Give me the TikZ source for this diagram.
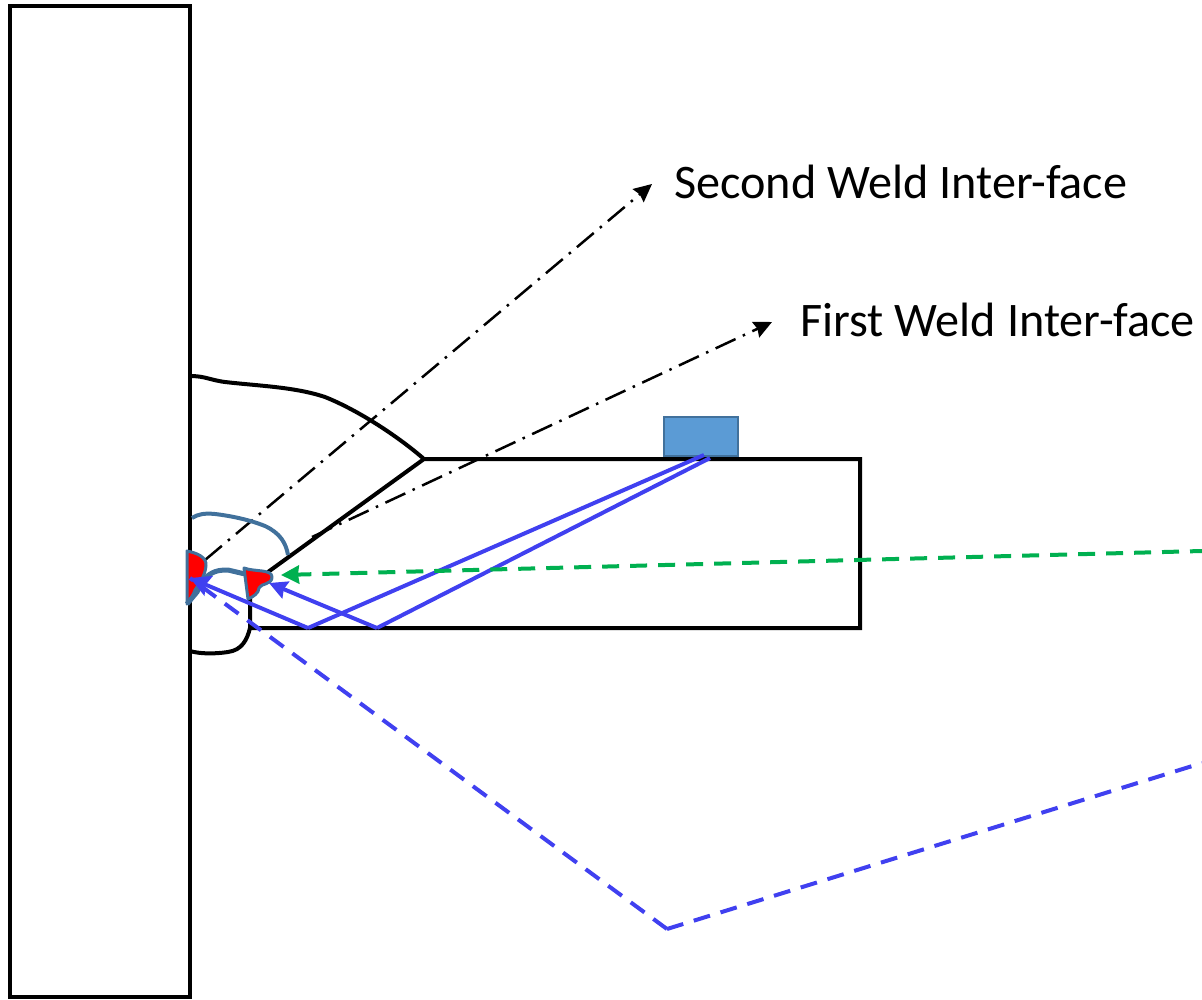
\documentclass[tikz,border=0pt]{standalone}
\usepackage{fontspec}
\setmainfont{Carlito}
\usepackage{tikz}
\usetikzlibrary{arrows.meta,positioning}
\definecolor{beamblue}{RGB}{64,64,240}
\definecolor{weldedge}{RGB}{65,113,156}
\definecolor{probefill}{RGB}{91,155,213}
\definecolor{echogreen}{RGB}{0,176,80}
\begin{document}
\begin{tikzpicture}[x=1pt,y=-1pt]
\tikzstyle{outline}=[draw=black, line width=4pt]
\tikzstyle{beam}=[draw=beamblue, line width=4pt]
\tikzstyle{beamdash}=[beam, dash pattern=on 17pt off 11pt]
\tikzstyle{leader}=[draw=black, line width=2.5pt, -{Stealth[length=18pt,width=17pt,inset=2pt]}]
\tikzstyle{weld}=[draw=weldedge, line width=3pt, fill=red, line join=round]
\tikzstyle{arc}=[draw=weldedge, line width=4pt]
\tikzstyle{tiplabel}=[anchor=base west, inner sep=0pt, font=\fontsize{48.2}{54}\selectfont]
\useasboundingbox (0,0) rectangle (1202,999);

\coordinate (TopWeldStart) at (190,376);
\coordinate (Crown) at (424,459);
\coordinate (BoxTR) at (860,459);
\coordinate (BoxBR) at (860,628);
\coordinate (BoxBL) at (250,628);
\coordinate (BoxL) at (250,597);
\coordinate (BevelEnd) at (268,572);
\coordinate (RootWeldStart) at (190,651);

\draw [outline] (10,6) rectangle (190,997);
\draw [outline] (TopWeldStart) .. controls (205,376) and (210,380) .. (225,382)
  .. controls (260,386) and (295,387) .. (325,397)
  .. controls (360,411) and (400,438) .. (Crown);
\draw [outline] (BevelEnd) -- (Crown) -- (BoxTR) -- (BoxBR) -- (BoxBL) -- (BoxL);
\draw [outline] (RootWeldStart) .. controls (200,654) and (215,654) .. (228,652)
  .. controls (242,650) and (247,640) .. (BoxBL);

\node [draw=weldedge, fill=probefill, line width=2.5pt, minimum width=74pt, minimum height=39pt, inner sep=0pt] (Probe) at (701,436.5) {};

\coordinate (SecondFrom) at (205,560);
\coordinate (SecondTo) at (652,184);
\coordinate (FirstFrom) at (312,537);
\coordinate (FirstTo) at (772,322);
\draw [leader, dash pattern=on 22pt off 8pt on 2.5pt off 8pt] (SecondFrom) -- (SecondTo);
\draw [leader, dash pattern=on 22pt off 8pt on 2.5pt off 8pt] (FirstFrom) -- (FirstTo);

\node [tiplabel] (SecondLabel) at (674,198) {Second Weld Inter-face};
\node [tiplabel] (FirstLabel) at (800,336) {First Weld Inter-face};

\draw [weld] (187,551) .. controls (197,553) and (207,557) .. (206,566)
  .. controls (205,576) and (199,584) .. (195,590)
  .. controls (193,595) and (191,600) .. (187,604) -- cycle;
\draw [weld] (244,568) .. controls (255,572) and (272,569) .. (272,577)
  .. controls (272,585) and (261,583) .. (259,588)
  .. controls (259,593) and (253,597) .. (248,599) -- cycle;
\draw [arc] (192,518) .. controls (198,514) and (205,513) .. (215,514)
  .. controls (232,516) and (250,520) .. (265,526)
  .. controls (280,533) and (286,543) .. (288,555);
\draw [arc, line width=5pt] (187,604) -- (197,592) -- (203,580)
  .. controls (212,571) and (218,570) .. (228,570)
  -- (245,574);

\coordinate (ProbeA) at (704,455);
\coordinate (ProbeB) at (710,458);
\coordinate (BounceA) at (308,628);
\coordinate (BounceB) at (377,628);
\coordinate (RootTip) at (190,578);
\coordinate (FaceTip) at (269,583);
\coordinate (DashCorner) at (667,929);
\coordinate (DashEnd) at (1202,763);
\coordinate (GreenStart) at (1202,551);
\coordinate (GreenTip) at (281,575);

\draw [beamdash] (DashCorner) -- (RootTip);
\draw [beamdash] (DashCorner) -- (DashEnd);
\draw [beam, line join=bevel] (ProbeA) -- (BounceA);
\draw [beam, -{Stealth[length=20pt,width=21pt,inset=3pt]}] (BounceA) -- (RootTip);
\draw [beam, line join=bevel] (ProbeB) -- (BounceB);
\draw [beam, -{Stealth[length=18pt,width=18pt,inset=2pt]}] (BounceB) -- (FaceTip);
\draw [draw=echogreen, line width=4pt, dash pattern=on 17pt off 11pt, dash phase=5pt, -{Stealth[length=18pt,width=18pt,inset=1pt]}] (GreenStart) -- (GreenTip);
\end{tikzpicture}
\end{document}
